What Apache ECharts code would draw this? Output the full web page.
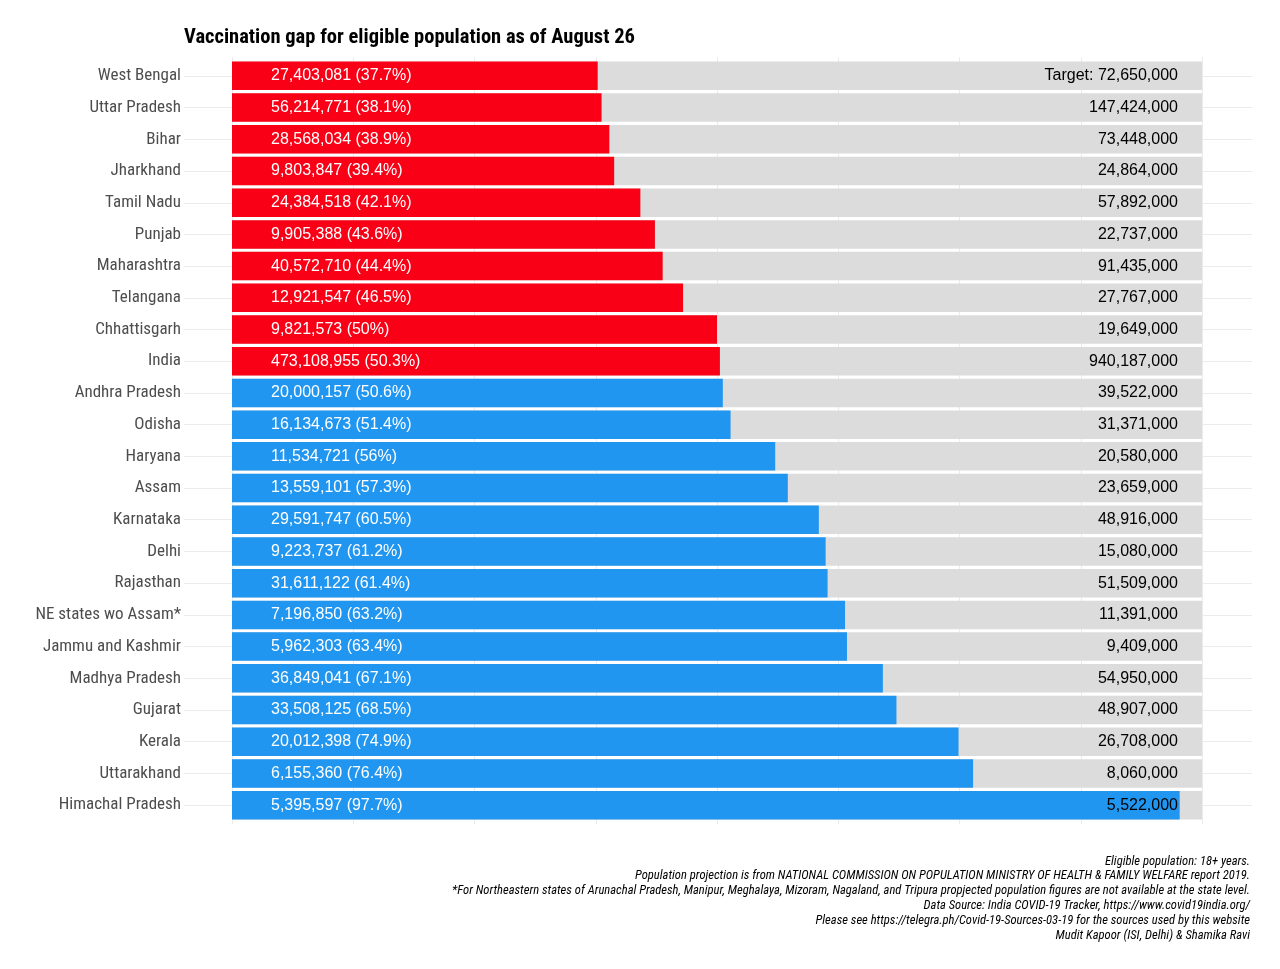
<!DOCTYPE html>
<html>
<head>
<meta charset="utf-8">
<script src="https://cdn.jsdelivr.net/npm/echarts@6/dist/echarts.min.js"></script>
<style>
html,body{margin:0;padding:0;background:#fff;}
#chart{width:1280px;height:969px;}
</style>
</head>
<body>
<div id="chart"></div>
<script>
const titleText = 'Vaccination gap for eligible population as of August 26';
const states = ['West Bengal','Uttar Pradesh','Bihar','Jharkhand','Tamil Nadu','Punjab','Maharashtra','Telangana','Chhattisgarh','India','Andhra Pradesh','Odisha','Haryana','Assam','Karnataka','Delhi','Rajasthan','NE states wo Assam*','Jammu and Kashmir','Madhya Pradesh','Gujarat','Kerala','Uttarakhand','Himachal Pradesh'];
const vaccinated = [27403081,56214771,28568034,9803847,24384518,9905388,40572710,12921547,9821573,473108955,20000157,16134673,11534721,13559101,29591747,9223737,31611122,7196850,5962303,36849041,33508125,20012398,6155360,5395597];
const percent = [37.7,38.1,38.9,39.4,42.1,43.6,44.4,46.5,50,50.3,50.6,51.4,56,57.3,60.5,61.2,61.4,63.2,63.4,67.1,68.5,74.9,76.4,97.7];
const target = [72650000,147424000,73448000,24864000,57892000,22737000,91435000,27767000,19649000,940187000,39522000,31371000,20580000,23659000,48916000,15080000,51509000,11391000,9409000,54950000,48907000,26708000,8060000,5522000];
const group = ['low','low','low','low','low','low','low','low','low','low','high','high','high','high','high','high','high','high','high','high','high','high','high','high'];
const fullScale = [100,100,100,100,100,100,100,100,100,100,100,100,100,100,100,100,100,100,100,100,100,100,100,100];
const xTickStep = 12.5;
const footnotes = [
  'Eligible population: 18+ years.',
  'Population projection is from NATIONAL COMMISSION ON POPULATION MINISTRY OF HEALTH & FAMILY WELFARE report 2019.',
  '*For Northeastern states of Arunachal Pradesh, Manipur, Meghalaya, Mizoram, Nagaland, and Tripura propjected population figures are not available at the state level.',
  'Data Source: India COVID-19 Tracker, https://www.covid19india.org/',
  'Please see https://telegra.ph/Covid-19-Sources-03-19 for the sources used by this website',
  'Mudit Kapoor (ISI, Delhi) & Shamika Ravi'
];

const colors = {low:'#f90016', high:'#2196f0'};
const narrow = "'Liberation Sans Narrow','Roboto Condensed','DejaVu Sans Condensed',sans-serif";
const regular = "'Liberation Sans',Arial,sans-serif";
const fmt = n => n.toLocaleString('en-US');
const gridColor = '#ebebeb';

const chart = echarts.init(document.getElementById('chart'));
const graphics = [{
  type:'text', left:184, top:27,
  style:{text:titleText, font:"bold 20.5px " + narrow, fill:'#000'}
}];
footnotes.forEach((t,i)=>{
  graphics.push({type:'text', right:30, top:855 + i*14.8,
    style:{text:t, font:"italic 12.6px " + narrow, fill:'#000', textAlign:'right'}});
});

const hiddenAxis = {axisLine:{show:false}, axisTick:{show:false}, axisLabel:{show:false}};

chart.setOption({
  animation:false,
  backgroundColor:'#fff',
  grid:[
    {left:232, right:78, top:60, bottom:148},
    {left:232, right:78, top:57, bottom:145},
    {left:184, right:28, top:76, bottom:164}
  ],
  xAxis:[
    Object.assign({type:'value', gridIndex:0, min:0, max:100, splitLine:{show:false}}, hiddenAxis),
    Object.assign({type:'value', gridIndex:1, min:0, max:100, interval:xTickStep,
      splitLine:{show:true, lineStyle:{color:gridColor, width:1}}}, hiddenAxis),
    Object.assign({type:'value', gridIndex:2, min:0, max:1, splitLine:{show:false}}, hiddenAxis)
  ],
  yAxis:[
    {type:'category', gridIndex:0, data:states, inverse:true,
      axisLine:{show:false}, axisTick:{show:false}, splitLine:{show:false},
      axisLabel:{margin:51, fontFamily:narrow, fontSize:17, color:'#4d4d4d'}},
    Object.assign({type:'value', gridIndex:1, min:0, max:1, splitLine:{show:false}}, hiddenAxis),
    Object.assign({type:'value', gridIndex:2, min:0, max:states.length-1, interval:1,
      splitLine:{show:true, lineStyle:{color:gridColor, width:1}}}, hiddenAxis)
  ],
  graphic:graphics,
  series:[
    {type:'bar', xAxisIndex:0, yAxisIndex:0, data:fullScale, barWidth:'90%', z:1, silent:true,
      itemStyle:{color:'#dcdcdc'}},
    {type:'bar', xAxisIndex:0, yAxisIndex:0, barGap:'-100%', barWidth:'90%', z:2, silent:true,
      data: percent.map((p,i)=>({value:p, itemStyle:{color:colors[group[i]]}})),
      label:{show:true, position:'insideLeft', distance:39, color:'#fff',
        fontFamily:regular, fontSize:16,
        formatter: p => fmt(vaccinated[p.dataIndex]) + ' (' + percent[p.dataIndex] + '%)'}},
    {type:'bar', xAxisIndex:0, yAxisIndex:0, barGap:'-100%', barWidth:'90%', z:3, silent:true,
      data:fullScale, itemStyle:{color:'rgba(0,0,0,0)'},
      label:{show:true, position:'insideRight', distance:24, color:'#000',
        fontFamily:regular, fontSize:16,
        formatter: p => (p.dataIndex===0 ? 'Target: ' : '') + fmt(target[p.dataIndex])}}
  ]
});
</script>
</body>
</html>
